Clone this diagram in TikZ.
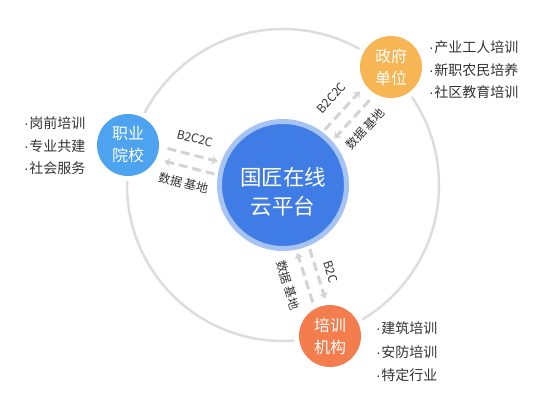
\documentclass[tikz,border=0pt]{standalone}
\usepackage{fontspec}
\setmainfont{Noto Sans CJK SC}
\newfontfamily\dotfont{Liberation Sans}
\newcommand\bdot{{\dotfont ·}\kern0.5pt}
\usetikzlibrary{calc,arrows.meta}
\definecolor{mainblue}{HTML}{407CE6}
\definecolor{ringblue}{HTML}{A7C3F4}
\definecolor{satblue}{HTML}{4DA3F0}
\definecolor{satorange}{HTML}{F8B553}
\definecolor{satred}{HTML}{F37D4D}
\definecolor{arcgray}{HTML}{DDDDDD}
\definecolor{arrgray}{HTML}{D3D3D3}
\definecolor{txtgray}{HTML}{333333}
\tikzset{
  hub/.style={circle, inner sep=0pt, minimum size=127pt, fill=mainblue, draw=ringblue, line width=5pt},
  hubtext/.style={inner sep=0pt, text=white, align=center, font=\fontsize{21.5pt}{29pt}\selectfont},
  sat/.style={circle, inner sep=0pt, minimum size=62pt, fill=#1, preaction={draw=white, line width=10pt},
    text=white, align=center, font=\fontsize{16pt}{22pt}\selectfont},
  bullet/.style={anchor=west, inner sep=0pt, text=txtgray, font=\fontsize{14pt}{16pt}\selectfont},
  lbl/.style={inner sep=0pt, text=txtgray, font=\fontsize{12pt}{14pt}\selectfont},
  flow/.style={draw=arrgray, line width=3pt, dash pattern=on 9pt off 5pt,
    -{Stealth[length=6pt, width=9pt, inset=2pt]}},
  ring/.style={draw=arcgray, line width=2.5pt}
}
\begin{document}
\begin{tikzpicture}[x=1pt, y=-1pt]
\useasboundingbox (0,0) rectangle (556,400);
\coordinate (o) at (283,185);
\draw[ring] (o) circle[radius=156pt];

\node[hub] (c) at (o) {};
\node[hubtext] (ct) at (283,192) {国匠在线\\云平台};
\node[sat=satblue] (s1) at (128,145) {职业\\院校};
\node[sat=satorange] (s2) at (391,67) {政府\\单位};
\node[sat=satred] (s3) at (330,336) {培训\\机构};

% bullet lists
\node[bullet] (l11) at (24,123.5) {\bdot 岗前培训};
\node[bullet] (l12) at (24,146) {\bdot 专业共建};
\node[bullet] (l13) at (24,168.5) {\bdot 社会服务};
\node[bullet] (l21) at (429,47) {\bdot 产业工人培训};
\node[bullet] (l22) at (429,70) {\bdot 新职农民培养};
\node[bullet] (l23) at (429,92) {\bdot 社区教育培训};
\node[bullet] (l31) at (376,328) {\bdot 建筑培训};
\node[bullet] (l32) at (376,352) {\bdot 安防培训};
\node[bullet] (l33) at (376,375) {\bdot 特定行业};

% flows
\foreach \s in {s1,s2,s3}{
  \coordinate (\s a) at ($(c)!69pt!(\s)$);
  \coordinate (\s b) at ($(c)!121pt!(\s)$);
  \draw[flow] ($(\s a)!6.5pt!90:(\s)$) -- ($(\s b)!6.5pt!-90:(c)$);
  \draw[flow] ($(\s b)!6.5pt!90:(c)$) -- ($(\s a)!6.5pt!-90:(\s)$);
  \coordinate (\s m) at ($(c)!97pt!(\s)$);
}
\node[lbl, rotate=-14.5] (t1a) at ($(s1m)!23pt!-90:(s1)$) {B2C2C};
\node[lbl, rotate=-14.5] (t1b) at ($(s1m)!23pt!90:(s1)$) {数据 基地};
\node[lbl, rotate=47.5] (t2a) at ($(s2m)!23pt!90:(s2)$) {B2C2C};
\node[lbl, rotate=47.5] (t2b) at ($(s2m)!23pt!-90:(s2)$) {数据 基地};
\node[lbl, rotate=-72.7] (t3a) at ($(s3m)!20pt!90:(s3)$) {B2C};
\node[lbl, rotate=-72.7] (t3b) at ($(s3m)!25pt!-90:(s3)$) {数据 基地};
\end{tikzpicture}
\end{document}
